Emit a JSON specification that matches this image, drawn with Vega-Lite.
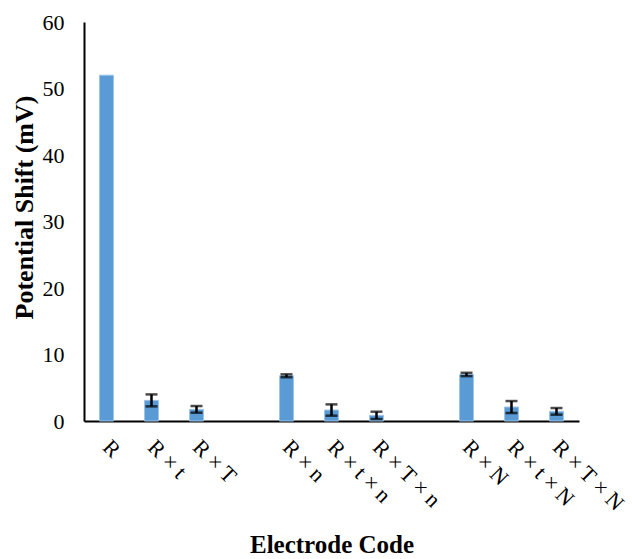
{
  "$schema": "https://vega.github.io/schema/vega-lite/v6.json",
  "width": 495,
  "height": 399,
  "autosize": "none",
  "padding": {"left": 84, "top": 22, "right": 53, "bottom": 138},
  "background": "white",
  "config": {
    "view": {"stroke": null},
    "font": "Liberation Serif"
  },
  "data": {
    "values": [
      {"code": "R", "value": 52.0, "err": null},
      {"code": "R × t", "value": 3.1, "err": 0.9},
      {"code": "R × T", "value": 1.75, "err": 0.5},
      {"code": "R × n", "value": 6.8, "err": 0.22},
      {"code": "R × t × n", "value": 1.65, "err": 0.85},
      {"code": "R × T × n", "value": 0.85, "err": 0.55},
      {"code": "R × N", "value": 7.0, "err": 0.25},
      {"code": "R × t × N", "value": 2.1, "err": 0.9},
      {"code": "R × T × N", "value": 1.45, "err": 0.5}
    ]
  },
  "encoding": {
    "x": {
      "field": "code",
      "type": "nominal",
      "scale": {
        "domain": ["R", "R × t", "R × T", "gap1", "R × n", "R × t × n", "R × T × n", "gap2", "R × N", "R × t × N", "R × T × N"],
        "paddingInner": 0.69,
        "paddingOuter": 0.345
      },
      "axis": {
        "title": "Electrode Code",
        "titleFont": "Liberation Serif",
        "titleFontSize": 25,
        "titleFontWeight": "bold",
        "titleColor": "black",
        "titleBaseline": "alphabetic",
        "titleY": 131,
        "labelExpr": "indexof(datum.value, 'gap') >= 0 ? '' : datum.value",
        "labelAngle": 45,
        "labelAlign": "left",
        "labelBaseline": "middle",
        "labelFont": "Liberation Serif",
        "labelFontSize": 22,
        "labelColor": "black",
        "labelPadding": 22,
        "labelOverlap": false,
        "ticks": false,
        "domainColor": "black",
        "domainWidth": 2,
        "grid": false
      }
    }
  },
  "layer": [
    {
      "mark": {"type": "bar", "color": "#5B9BD5", "stroke": "#9DC3E6", "strokeWidth": 1},
      "encoding": {
        "y": {
          "field": "value",
          "type": "quantitative",
          "title": "Potential Shift (mV)",
          "scale": {"domain": [0, 60], "nice": false},
          "axis": {
            "titleFont": "Liberation Serif",
            "titleFontSize": 26,
            "titleFontWeight": "bold",
            "titleColor": "black",
            "titleBaseline": "middle",
            "titleX": -60,
            "titleY": 185,
            "values": [0, 10, 20, 30, 40, 50, 60],
            "labelFont": "Liberation Serif",
            "labelFontSize": 22,
            "labelColor": "black",
            "labelPadding": 20,
            "ticks": false,
            "grid": false,
            "domainColor": "black",
            "domainWidth": 2
          }
        }
      }
    },
    {
      "transform": [{"filter": "datum.err > 0"}],
      "mark": {
        "type": "errorbar",
        "ticks": {"size": 12, "thickness": 2.5, "color": "black"},
        "rule": {"strokeWidth": 2.5, "color": "black"}
      },
      "encoding": {
        "y": {"field": "value", "type": "quantitative", "title": "Potential Shift (mV)"},
        "yError": {"field": "err"}
      }
    }
  ]
}
